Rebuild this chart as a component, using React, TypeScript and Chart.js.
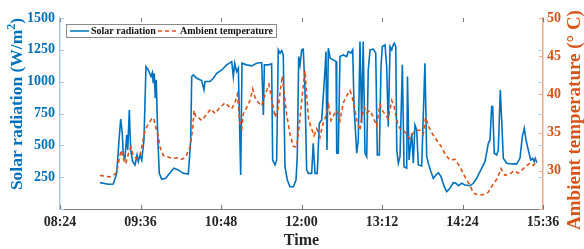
import React, { useEffect, useRef } from "react";
import { Chart, registerables } from "chart.js";

Chart.register(...registerables);

// x-axis tick labels (HH:MM)
const xTickLabels = ["08:24", "09:36", "10:48", "12:00", "13:12", "14:24", "15:36"];
const solarTicks = [0, 250, 500, 750, 1000, 1250, 1500];
const tempTicks = [25, 30, 35, 40, 45, 50];

// Solar radiation: time (minutes after midnight) and value (W/m²)
const solarMinutes = [
  539.8, 547.2, 551.7, 554.7, 556.8, 558.3, 559.7, 560.6, 562.1, 563.7,
  564.6, 566.0, 567.2, 569.0, 571.1, 572.9, 574.0, 575.6, 577.1, 579.1,
  580.9, 583.0, 585.4, 586.6, 587.4, 588.3, 589.2, 590.1, 591.4, 592.8,
  595.0, 598.5, 602.4, 606.0, 609.8, 614.3, 618.8, 620.9, 621.8, 623.2,
  626.3, 630.7, 632.8, 633.7, 638.2, 641.1, 644.2, 648.6, 653.1, 657.6,
  659.0, 660.3, 662.0, 663.5, 665.6, 666.8, 671.0, 675.5, 679.9, 684.4,
  685.9, 686.8, 690.3, 693.3, 694.2, 696.3, 697.8, 699.2, 700.8, 702.3,
  703.7, 705.2, 707.3, 709.7, 712.7, 715.1, 716.2, 717.5, 718.7, 720.2,
  721.6, 723.1, 724.6, 726.1, 729.1, 730.5, 732.1, 734.1, 735.9, 738.1,
  741.0, 741.9, 742.8, 744.0, 745.6, 748.4, 750.9, 751.5, 752.9, 754.4,
  757.4, 760.4, 761.9, 764.3, 765.8, 767.0, 769.4, 770.8, 772.3, 773.8,
  775.2, 776.8, 778.3, 779.7, 781.3, 784.2, 786.4, 787.8, 789.6, 791.1,
  792.3, 794.7, 796.2, 797.6, 799.2, 800.7, 802.1, 803.0, 804.3, 805.2,
  806.6, 808.1, 810.2, 811.7, 814.1, 814.8, 816.2, 818.6, 820.0, 821.5,
  823.0, 824.5, 827.5, 830.4, 832.0, 833.4, 835.8, 837.9, 840.3, 842.4,
  844.8, 847.7, 849.9, 852.8, 855.8, 858.2, 860.3, 863.3, 866.2, 870.7,
  873.7, 876.7, 879.6, 884.1, 887.1, 888.6, 890.1, 891.0, 892.4, 894.6,
  896.0, 897.8, 899.3, 900.5, 903.5, 908.0, 912.5, 915.4, 917.5, 919.3,
  920.8, 922.8, 925.0, 926.8, 928.0, 929.1, 930.4,
];
const solarValues = [
  207, 194, 196, 280, 542, 707, 595, 424, 398, 582,
  464, 778, 464, 372, 346, 424, 372, 424, 385, 542,
  1118, 1092, 1040, 1071, 988, 1066, 870, 1014, 568, 280,
  233, 241, 285, 320, 307, 280, 275, 542, 1040, 1053,
  1027, 1008, 935, 1001, 1001, 1027, 1066, 1092, 1132, 1158,
  1040, 1145, 1079, 1106, 267, 1145, 1132, 1124, 1145, 1150,
  739, 1132, 1132, 1140, 385, 346, 385, 1250, 1224, 1245,
  1210, 332, 228, 175, 175, 228, 411, 1197, 1132, 1250,
  1255, 935, 307, 280, 280, 516, 280, 280, 674, 700,
  1092, 1237, 464, 1263, 1184, 1171, 1158, 438, 438, 1197,
  1210, 1197, 1237, 1224, 1250, 804, 438, 542, 1315, 674,
  1315, 438, 411, 1092, 1250, 1255, 1224, 424, 424, 1118,
  1276, 1289, 1118, 647, 1276, 1250, 1289, 1302, 1276, 464,
  359, 411, 1132, 332, 320, 1040, 385, 595, 359, 660,
  621, 346, 338, 1145, 411, 359, 293, 241, 267, 285,
  254, 175, 136, 163, 207, 202, 183, 202, 189, 183,
  202, 241, 293, 372, 516, 542, 804, 804, 438, 424,
  464, 935, 647, 398, 359, 354, 354, 398, 568, 634,
  542, 464, 385, 398, 372, 398, 364,
];

// Ambient temperature: time (minutes after midnight) and value (°C)
const tempMinutes = [
  539.8, 544.2, 548.7, 551.7, 554.7, 556.8, 558.6, 560.6, 562.8, 565.1,
  567.5, 569.6, 572.6, 575.6, 577.6, 580.0, 583.0, 586.0, 587.8, 589.6,
  591.9, 593.4, 596.4, 600.9, 604.4, 608.4, 612.8, 616.4, 620.3, 622.7,
  623.9, 625.6, 628.3, 630.7, 633.1, 636.1, 639.1, 642.6, 647.1, 651.6,
  654.5, 657.6, 660.5, 662.6, 663.8, 665.0, 666.5, 667.9, 671.0, 673.9,
  676.4, 678.4, 681.4, 684.4, 686.5, 688.9, 690.9, 693.3, 694.8, 696.3,
  699.2, 701.4, 702.8, 704.3, 706.7, 709.7, 712.7, 715.7, 718.1, 721.1,
  723.1, 724.6, 726.4, 729.1, 731.2, 733.6, 736.5, 739.5, 741.9, 744.3,
  746.3, 748.4, 751.4, 754.4, 757.4, 760.4, 763.4, 765.4, 767.8, 769.9,
  772.3, 773.8, 776.2, 778.3, 781.3, 784.2, 787.2, 790.2, 792.3, 794.7,
  797.6, 800.7, 802.7, 805.2, 808.1, 811.1, 814.1, 817.0, 820.0, 823.0,
  826.0, 828.9, 831.1, 833.4, 836.4, 840.9, 845.4, 848.3, 852.8, 857.3,
  861.8, 866.2, 870.7, 873.7, 878.2, 882.6, 887.1, 891.6, 895.2, 898.4,
  902.0, 906.5, 910.1, 913.9, 917.0, 920.8, 924.4, 927.4, 930.4,
];
const tempValues = [
  29.4, 29.3, 29.2, 29.4, 29.8, 31.4, 32.7, 31.6, 30.9, 32.2,
  33.1, 32.0, 31.6, 32.0, 33.5, 35.3, 36.1, 36.8, 36.9, 35.7,
  34.6, 33.1, 32.0, 31.8, 31.6, 31.7, 31.5, 31.8, 33.1, 35.5,
  37.9, 37.0, 36.9, 36.6, 37.0, 37.6, 38.1, 37.5, 38.3, 38.9,
  38.5, 38.1, 38.9, 40.0, 38.3, 36.1, 35.5, 37.4, 38.3, 39.2,
  40.7, 39.6, 38.9, 38.5, 39.6, 40.5, 41.3, 39.4, 38.3, 37.0,
  38.3, 40.9, 42.4, 40.5, 37.4, 34.8, 33.2, 33.1, 36.1, 40.5,
  43.1, 40.0, 36.6, 35.5, 34.6, 35.5, 34.4, 36.3, 37.2, 38.6,
  36.6, 37.2, 37.9, 36.6, 38.9, 39.8, 40.5, 39.6, 37.9, 36.3,
  35.3, 37.0, 38.3, 37.6, 37.9, 37.0, 35.9, 38.7, 37.9, 37.4,
  36.8, 39.2, 38.5, 36.6, 35.5, 35.3, 34.8, 34.2, 35.0, 35.3,
  35.3, 34.8, 37.0, 35.9, 35.0, 34.0, 33.1, 32.2, 31.4, 31.5,
  30.5, 29.2, 28.1, 27.1, 26.8, 26.9, 27.2, 28.3, 29.0, 30.3,
  29.4, 29.6, 30.0, 29.7, 30.1, 30.6, 31.0, 30.7, 31.3,
];

const toMin = (s: string) => {
  const [h, m] = s.split(":").map(Number);
  return h * 60 + m;
};
const fmt = (v: number) => {
  const r = Math.round(v);
  return `${String(Math.floor(r / 60)).padStart(2, "0")}:${String(r % 60).padStart(2, "0")}`;
};

const SERIF = '"Liberation Serif", "Times New Roman", serif';
const BLUE = "#0072BD";
const ORANGE = "#D95319";

export default function App() {
  const ref = useRef<HTMLCanvasElement>(null);

  useEffect(() => {
    document.body.style.margin = "0";
    const canvas = ref.current!;

    const extras = {
      id: "extras",
      afterDraw(chart: any) {
        const { ctx, chartArea: a, scales } = chart;
        ctx.save();
        ctx.lineWidth = 1;
        // inward tick marks
        const L = 4;
        ctx.strokeStyle = "#777";
        xTickLabels.forEach((l) => {
          const px = Math.round(scales.x.getPixelForValue(toMin(l))) + 0.5;
          ctx.beginPath();
          ctx.moveTo(px, a.bottom);
          ctx.lineTo(px, a.bottom - L);
          ctx.moveTo(px, a.top);
          ctx.lineTo(px, a.top + L);
          ctx.stroke();
        });
        ctx.strokeStyle = "#a8cbe8";
        solarTicks.forEach((v) => {
          const py = Math.round(scales.y.getPixelForValue(v)) + 0.5;
          ctx.beginPath();
          ctx.moveTo(a.left, py);
          ctx.lineTo(a.left + L, py);
          ctx.moveTo(a.right, py);
          ctx.lineTo(a.right - L, py);
          ctx.stroke();
        });
        ctx.strokeStyle = "#f0a885";
        tempTicks.forEach((v) => {
          const py = Math.round(scales.y1.getPixelForValue(v)) + 0.5;
          ctx.beginPath();
          ctx.moveTo(a.right, py);
          ctx.lineTo(a.right - L, py);
          ctx.stroke();
        });

        // legend box
        const ds = chart.data.datasets;
        const bx = 66.5, by = 24.5, bw = 210, bh = 13;
        ctx.fillStyle = "#fff";
        ctx.fillRect(bx, by, bw, bh);
        ctx.strokeStyle = "#8a8a8a";
        ctx.strokeRect(bx, by, bw, bh);
        const cy = by + bh / 2;
        ctx.font = `bold 10px ${SERIF}`;
        ctx.textBaseline = "middle";
        ctx.textAlign = "left";
        const entries = [
          { x0: 70, x1: 89, tx: 91 },
          { x0: 158, x1: 177, tx: 180 },
        ];
        entries.forEach((e, i) => {
          const d = ds[i];
          ctx.strokeStyle = d.borderColor;
          ctx.lineWidth = 1.5;
          ctx.setLineDash(d.borderDash || []);
          ctx.beginPath();
          ctx.moveTo(e.x0, cy);
          ctx.lineTo(e.x1, cy);
          ctx.stroke();
          ctx.setLineDash([]);
          ctx.fillStyle = "#111";
          ctx.fillText(d.label, e.tx, cy + 0.5);
        });

        // left axis title with superscript
        {
          const fs = 17.5;
          const f1 = `bold ${fs}px ${SERIF}`;
          const f2 = `bold ${Math.round(fs * 0.7)}px ${SERIF}`;
          const t1 = "Solar radiation (W/m";
          const t2 = "2";
          const t3 = ")";
          ctx.font = f1;
          const w1 = ctx.measureText(t1).width;
          const w3 = ctx.measureText(t3).width;
          ctx.font = f2;
          const w2 = ctx.measureText(t2).width;
          const total = w1 + w2 + w3;
          ctx.translate(16, 104);
          ctx.rotate(-Math.PI / 2);
          ctx.fillStyle = BLUE;
          ctx.textBaseline = "alphabetic";
          ctx.textAlign = "left";
          let x = -total / 2;
          const base = fs * 0.35;
          ctx.font = f1;
          ctx.fillText(t1, x, base);
          x += w1;
          ctx.font = f2;
          ctx.fillText(t2, x, base - fs * 0.42);
          x += w2;
          ctx.font = f1;
          ctx.fillText(t3, x, base);
          ctx.setTransform(1, 0, 0, 1, 0, 0);
        }
        // right axis title
        {
          const fs = 19;
          ctx.font = `bold ${fs}px ${SERIF}`;
          ctx.translate(575, 120);
          ctx.rotate(-Math.PI / 2);
          ctx.fillStyle = ORANGE;
          ctx.textAlign = "center";
          ctx.textBaseline = "middle";
          ctx.fillText("Ambient temperature (° C)", 0, 0);
          ctx.setTransform(1, 0, 0, 1, 0, 0);
        }
        ctx.restore();
      },
    };

    const tickFont = { family: SERIF, size: 14, weight: "bold" as const };

    const chart = new Chart(canvas, {
      type: "line",
      data: {
        datasets: [
          {
            label: "Solar radiation",
            data: solarMinutes.map((t, i) => ({ x: t, y: solarValues[i] })),
            yAxisID: "y",
            borderColor: BLUE,
            backgroundColor: BLUE,
            borderWidth: 1.6,
            pointRadius: 0,
            tension: 0,
            order: 1,
          },
          {
            label: "Ambient temperature",
            data: tempMinutes.map((t, i) => ({ x: t, y: tempValues[i] })),
            yAxisID: "y1",
            borderColor: ORANGE,
            backgroundColor: ORANGE,
            borderDash: [4, 3],
            borderWidth: 1.6,
            pointRadius: 0,
            tension: 0,
            order: 0,
          },
        ],
      },
      options: {
        responsive: false,
        animation: false,
        devicePixelRatio: 1,
        layout: { padding: { top: 18, left: 0, right: 0, bottom: 0 } },
        plugins: { legend: { display: false }, tooltip: { enabled: false } },
        scales: {
          x: {
            type: "linear",
            min: toMin(xTickLabels[0]),
            max: toMin(xTickLabels[xTickLabels.length - 1]),
            afterBuildTicks: (s: any) => {
              s.ticks = xTickLabels.map((l) => ({ value: toMin(l) }));
            },
            afterFit: (s: any) => {
              s.height = 40;
            },
            ticks: {
              callback: (v: any) => fmt(Number(v)),
              color: "#262626",
              font: tickFont,
              padding: 5,
              maxRotation: 0,
              autoSkip: false,
            },
            grid: { drawOnChartArea: false, drawTicks: false },
            border: { color: "#7a7a7a", width: 1 },
            title: {
              display: true,
              text: "Time",
              color: "#262626",
              font: { family: SERIF, size: 16, weight: "bold", lineHeight: 1 },
              padding: 0,
            },
          },
          y: {
            type: "linear",
            position: "left",
            min: 0,
            max: 1500,
            afterBuildTicks: (s: any) => {
              s.ticks = solarTicks.map((v) => ({ value: v }));
            },
            afterFit: (s: any) => {
              s.width = 60;
            },
            ticks: {
              callback: (v: any) => (Number(v) === 0 ? "" : String(v)),
              color: BLUE,
              font: tickFont,
              padding: 5,
            },
            grid: { drawOnChartArea: false, drawTicks: false },
            border: { color: "#a8cbe8", width: 1.5 },
          },
          y1: {
            type: "linear",
            position: "right",
            min: 25,
            max: 50,
            afterBuildTicks: (s: any) => {
              s.ticks = tempTicks.map((v) => ({ value: v }));
            },
            afterFit: (s: any) => {
              s.width = 41;
            },
            ticks: {
              callback: (v: any) => (Number(v) === 25 ? "" : String(v)),
              color: ORANGE,
              font: tickFont,
              padding: 4,
            },
            grid: { drawOnChartArea: false, drawTicks: false },
            border: { color: "#f0a885", width: 1.5 },
          },
        },
      },
      plugins: [extras],
    });
    return () => chart.destroy();
  }, []);

  return (
    <div style={{ width: 584, height: 249 }}>
      <canvas ref={ref} width={584} height={249} style={{ display: "block" }} />
    </div>
  );
}
